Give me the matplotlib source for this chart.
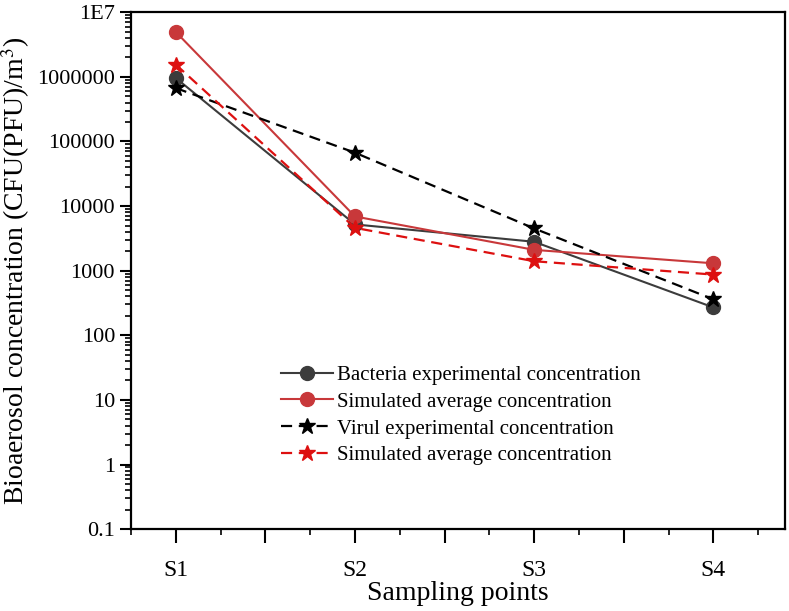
import numpy as np
import matplotlib.pyplot as plt
from matplotlib.ticker import FixedLocator, FixedFormatter, LogLocator, NullFormatter

plt.rcParams['font.family'] = ['Liberation Serif', 'DejaVu Serif']
plt.rcParams['mathtext.fontset'] = 'stix'

# values
points = ['S1', 'S2', 'S3', 'S4']
x_pos = [1, 2, 3, 4]
bacteria_exp = [960000, 5200, 2800, 270]
bacteria_sim = [4950000, 6900, 2100, 1300]
virus_exp = [670000, 67000, 4500, 360]
virus_sim = [1550000, 4600, 1400, 870]

y_ticks = [0.1, 1, 10, 100, 1000, 10000, 100000, 1000000, 1e7]
y_labels = ['0.1', '1', '10', '100', '1000', '10000', '100000', '1000000', '1E7']

fig = plt.figure(figsize=(7.89, 6.11), dpi=100)
ax = fig.add_axes([0.166, 0.134, 0.829, 0.846])

ax.plot(x_pos, bacteria_exp, '-o', color='#3c3c3c', lw=1.5, ms=10,
        label='Bacteria experimental concentration')
ax.plot(x_pos, bacteria_sim, '-o', color='#c8383a', lw=1.5, ms=10,
        label='Simulated average concentration')
ax.plot(x_pos, virus_exp, '--*', color='black', lw=1.6, ms=12, dashes=(5, 3),
        label='Virul experimental concentration')
ax.plot(x_pos, virus_sim, '--*', color='#dd1010', lw=1.6, ms=12, dashes=(5, 3),
        label='Simulated average concentration')

ax.set_yscale('log')
ax.set_ylim(0.1, 1e7)
ax.set_xlim(0.75, 4.40)

ax.yaxis.set_major_locator(FixedLocator(y_ticks))
ax.yaxis.set_major_formatter(FixedFormatter(y_labels))
ax.yaxis.set_minor_locator(LogLocator(base=10, subs=np.arange(2, 10), numticks=20))
ax.yaxis.set_minor_formatter(NullFormatter())

major_x = np.arange(1, 4.01, 0.5)
ax.xaxis.set_major_locator(FixedLocator(major_x))
ax.xaxis.set_major_formatter(FixedFormatter(['S1', '', 'S2', '', 'S3', '', 'S4']))
ax.xaxis.set_minor_locator(FixedLocator([0.75, 1.25, 1.75, 2.25, 2.75, 3.25, 3.75, 4.25]))

ax.tick_params(axis='both', which='major', direction='out', length=8, width=1.5,
               labelsize=16, right=False, top=False)
ax.tick_params(axis='both', which='minor', direction='out', length=4, width=1.2,
               right=False, top=False)
ax.tick_params(axis='x', which='major', length=10, pad=12, labelsize=17)

for sp in ax.spines.values():
    sp.set_linewidth(1.6)

ax.set_xlabel('Sampling points', fontsize=20, labelpad=0)
ax.set_ylabel('Bioaerosol concentration (CFU(PFU)/m$^3$)', fontsize=20, labelpad=4)

ax.legend(loc='upper left', bbox_to_anchor=(0.229, 0.317), frameon=False,
          fontsize=15, handlelength=2.5, handletextpad=0.2, labelspacing=0.35,
          borderaxespad=0, borderpad=0)

fig.savefig('out.png', dpi=100)
